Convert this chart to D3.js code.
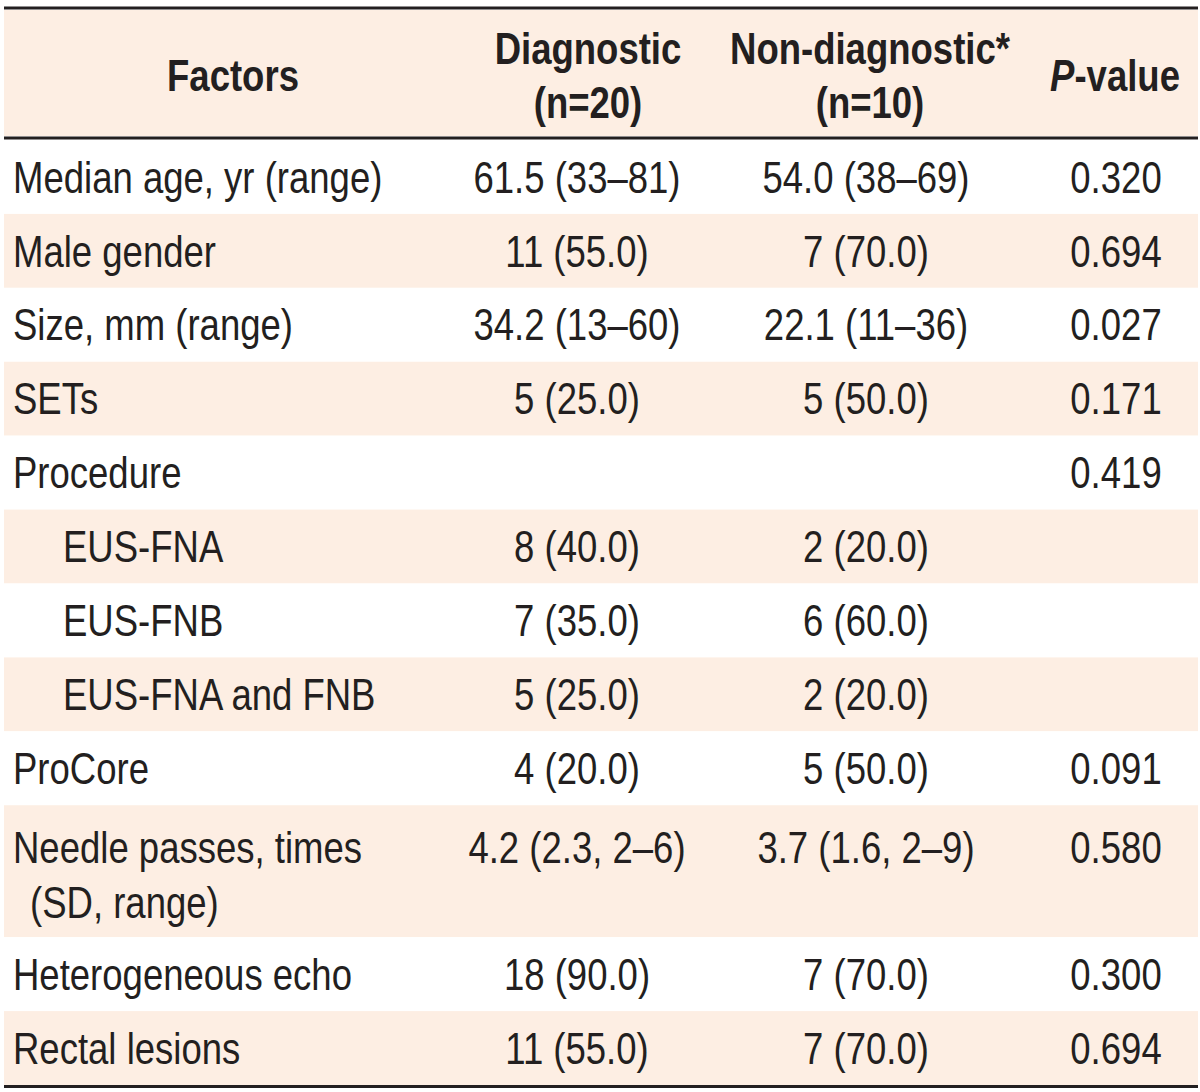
<!DOCTYPE html>
<html><head><meta charset="utf-8">
<script src="https://cdn.jsdelivr.net/npm/d3@7"></script>
<style>
html,body{margin:0;padding:0;background:#fff;}
svg text{font-family:"Liberation Sans",Arial,sans-serif;fill:#231f20;}
</style></head>
<body>
<svg id="chart" width="1200" height="1092"></svg>
<script>
// ---- data ----
const headers = [["Factors"], ["Diagnostic", "(n=20)"], ["Non-diagnostic*", "(n=10)"], ["P-value"]];
const factors = ["Median age, yr (range)", "Male gender", "Size, mm (range)", "SETs", "Procedure",
  "EUS-FNA", "EUS-FNB", "EUS-FNA and FNB", "ProCore", "Needle passes, times|(SD, range)",
  "Heterogeneous echo", "Rectal lesions"];
const indented = [false, false, false, false, false, true, true, true, false, false, false, false];
const diagnostic = ["61.5 (33–81)", "11 (55.0)", "34.2 (13–60)", "5 (25.0)", "", "8 (40.0)", "7 (35.0)",
  "5 (25.0)", "4 (20.0)", "4.2 (2.3, 2–6)", "18 (90.0)", "11 (55.0)"];
const nonDiagnostic = ["54.0 (38–69)", "7 (70.0)", "22.1 (11–36)", "5 (50.0)", "", "2 (20.0)", "6 (60.0)",
  "2 (20.0)", "5 (50.0)", "3.7 (1.6, 2–9)", "7 (70.0)", "7 (70.0)"];
const pValues = ["0.320", "0.694", "0.027", "0.171", "0.419", "", "", "", "0.091", "0.580", "0.300", "0.694"];
const rowSpans = [1, 1, 1, 1, 1, 1, 1, 1, 1, 1.785, 1, 1];

// ---- layout ----
const svg = d3.select("#chart");
const left = 4, right = 1198;
const headTop = 10, headBottom = 136, bodyTop = 140, bodyBottom = 1085;
const fs = 44, sx = 0.83;
const shade = "#fdeee3", ink = "#231f20";

const cum = [0];
rowSpans.forEach(s => cum.push(cum[cum.length - 1] + s));
const y = d3.scaleLinear().domain([0, cum[cum.length - 1]]).range([bodyTop, bodyBottom]);

const colCenterHead = [233, 588, 870, 1115];
const colCenterBody = [null, 577, 866, 1116];

function addText(x, yy, anchor, bold) {
  return svg.append("text").attr("x", 0).attr("y", 0)
    .attr("transform", `translate(${x},${yy}) scale(${sx},1)`)
    .attr("text-anchor", anchor).attr("font-size", fs)
    .attr("font-weight", bold ? "bold" : "normal");
}

// header background
svg.append("rect").attr("x", left).attr("y", headTop).attr("width", right - left)
  .attr("height", headBottom - headTop).attr("fill", shade);

// row backgrounds
const rows = factors.map((f, i) => ({
  f, i, d: diagnostic[i], n: nonDiagnostic[i], p: pValues[i],
  y0: y(cum[i]), y1: y(cum[i + 1])
}));
svg.selectAll("rect.row").data(rows).join("rect").attr("class", "row")
  .attr("x", left).attr("width", right - left)
  .attr("y", d => d.y0).attr("height", d => d.y1 - d.y0)
  .attr("fill", d => d.i % 2 === 1 ? shade : "#fff");

// rules
[[8, 3], [138, 3], [1086.5, 3]].forEach(([yy, w]) => {
  svg.append("line").attr("x1", left).attr("x2", right).attr("y1", yy).attr("y2", yy)
    .attr("stroke", ink).attr("stroke-width", w);
});

// header text
const capOff = 0.355 * fs;
headers.forEach((lines, c) => {
  const mid = (headTop + headBottom) / 2;
  const gap = 54;
  lines.forEach((t, k) => {
    const cy = lines.length === 1 ? mid + 2 : mid - gap / 2 + k * gap + 2;
    const txt = addText(colCenterHead[c], cy + capOff, "middle", true);
    if (t.startsWith("P-")) {
      txt.append("tspan").attr("font-style", "italic").text("P");
      txt.append("tspan").text(t.slice(1));
    } else {
      txt.text(t);
    }
  });
});

// body text
rows.forEach(r => {
  const firstCy = r.y0 + 37 + (rowSpans[r.i] > 1 ? 5 : 0);
  const parts = r.f.split("|");
  parts.forEach((t, k) => {
    addText(indented[r.i] ? 63 : (k > 0 ? 30 : 13), firstCy + k * 55 + capOff, "start", false).text(t);
  });
  [[1, r.d], [2, r.n], [3, r.p]].forEach(([c, v]) => {
    if (!v) return;
    addText(colCenterBody[c], firstCy + capOff, "middle", false).text(v);
  });
});
</script>
</body></html>
